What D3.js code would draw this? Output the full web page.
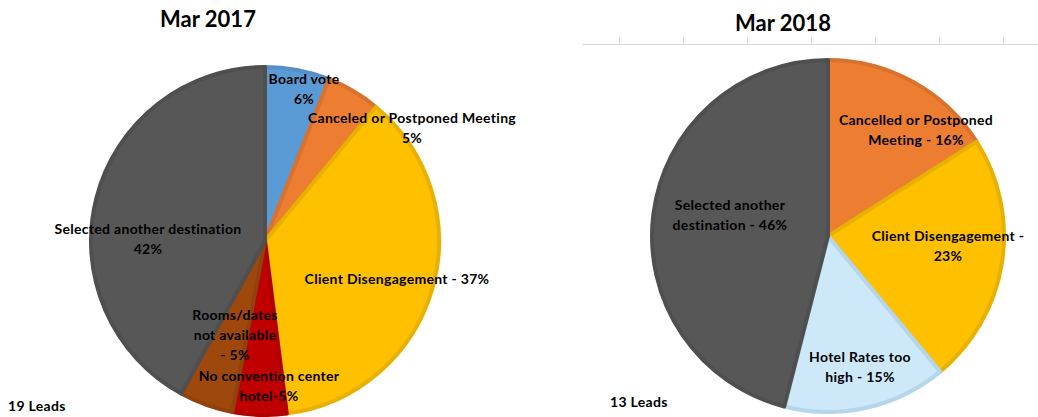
<!DOCTYPE html>
<html>
<head>
<meta charset="utf-8">
<script src="https://cdnjs.cloudflare.com/ajax/libs/d3/7.8.5/d3.min.js"></script>
<style>
  html, body { margin: 0; padding: 0; background: #fff; }
  svg text { font-family: Lato, "Open Sans", sans-serif; font-weight: bold; fill: #000; }
</style>
</head>
<body>
<svg id="chart" width="1038" height="417"></svg>
<script>
// data 2017 (19 leads)
var cats2017 = ['Board vote', 'Canceled or Postponed Meeting', 'Client Disengagement',
  'No convention center hotel', 'Rooms/dates not available', 'Selected another destination'];
var vals2017 = [6, 5, 37, 5, 5, 42];
var labels2017 = [['Board vote', '6%'], ['Canceled or Postponed Meeting', '5%'], ['Client Disengagement - 37%'],
  ['No convention center', 'hotel-5%'], ['Rooms/dates', 'not available', '- 5%'], ['Selected another destination', '42%']];

// data 2018 (13 leads)
var cats2018 = ['Cancelled or Postponed Meeting', 'Client Disengagement', 'Hotel Rates too high', 'Selected another destination'];
var vals2018 = [16, 23, 15, 46];
var labels2018 = [['Cancelled or Postponed', 'Meeting - 16%'], ['Client Disengagement -', '23%'],
  ['Hotel Rates too', 'high - 15%'], ['Selected another', 'destination - 46%']];

var fills2017 = ['#5B9BD5', '#ED7D31', '#FFC000', '#C00000', '#9E480E', '#575757'];
var strokes2017 = ['#558fc6', '#d9722e', '#e8b000', '#b00000', '#8f420d', '#4f4f4f'];
var fills2018 = ['#ED7D31', '#FFC000', '#CCE8F9', '#575757'];
var strokes2018 = ['#d9722e', '#e8b000', '#b5d5ea', '#4f4f4f'];

// label placement, offsets from pie centre
var pos2017 = [[39, -162], [147, -123], [132, 38], [4, 135], [-30, 74], [-117, -12]];
var pos2018 = [[88, -116], [120, 0], [32, 121], [-98, -31]];

var svg = d3.select('#chart');
svg.append('rect').attr('width', 1038).attr('height', 417).attr('fill', '#fff');

function drawPie(cx, cy, r, cats, vals, fills, strokes, labels, pos) {
  var g = svg.append('g').attr('transform', 'translate(' + cx + ',' + cy + ')');
  var pie = d3.pie().sort(null).value(function(d) { return d; });
  var arc = d3.arc().innerRadius(0).outerRadius(r - 2);
  g.selectAll('path').data(pie(vals)).enter().append('path')
    .attr('d', arc)
    .attr('fill', function(d, i) { return fills[i]; })
    .attr('stroke', function(d, i) { return strokes[i]; })
    .attr('stroke-width', 4)
    .attr('stroke-linejoin', 'round');

  var lbl = g.selectAll('text.lbl').data(labels).enter().append('text')
    .attr('class', 'lbl')
    .attr('text-anchor', 'middle')
    .style('font-size', '14px')
    .style('letter-spacing', '0.3px');
  lbl.each(function(lines, i) {
    var t = d3.select(this);
    lines.forEach(function(s, j) {
      t.append('tspan')
        .attr('x', pos[i][0])
        .attr('y', pos[i][1] + j * 20)
        .attr('dy', '0.35em')
        .text(s);
    });
  });
}

// faint axis with ticks above the 2018 pie
var tickScale = d3.scaleLinear().domain([0, 6]).range([619, 1003]);
svg.append('line').attr('x1', 582).attr('x2', 1038).attr('y1', 44.5).attr('y2', 44.5)
  .attr('stroke', '#d9d9d9').attr('stroke-width', 1);
svg.selectAll('line.tick').data(d3.range(7)).enter().append('line')
  .attr('class', 'tick')
  .attr('x1', function(d) { return Math.round(tickScale(d)) + 0.5; })
  .attr('x2', function(d) { return Math.round(tickScale(d)) + 0.5; })
  .attr('y1', 37).attr('y2', 44)
  .attr('stroke', '#d9d9d9');

drawPie(265, 241, 176, cats2017, vals2017, fills2017, strokes2017, labels2017, pos2017);
drawPie(828, 236, 178, cats2018, vals2018, fills2018, strokes2018, labels2018, pos2018);

svg.append('text').attr('x', 208).attr('y', 27).attr('text-anchor', 'middle')
  .style('font-size', '22px').text('Mar 2017');
svg.append('text').attr('x', 783).attr('y', 31).attr('text-anchor', 'middle')
  .style('font-size', '22px').text('Mar 2018');

svg.append('text').attr('x', 8).attr('y', 411).style('font-size', '14px')
  .style('letter-spacing', '0.3px').text('19 Leads');
svg.append('text').attr('x', 610).attr('y', 407).style('font-size', '14px')
  .style('letter-spacing', '0.3px').text('13 Leads');
</script>
</body>
</html>
